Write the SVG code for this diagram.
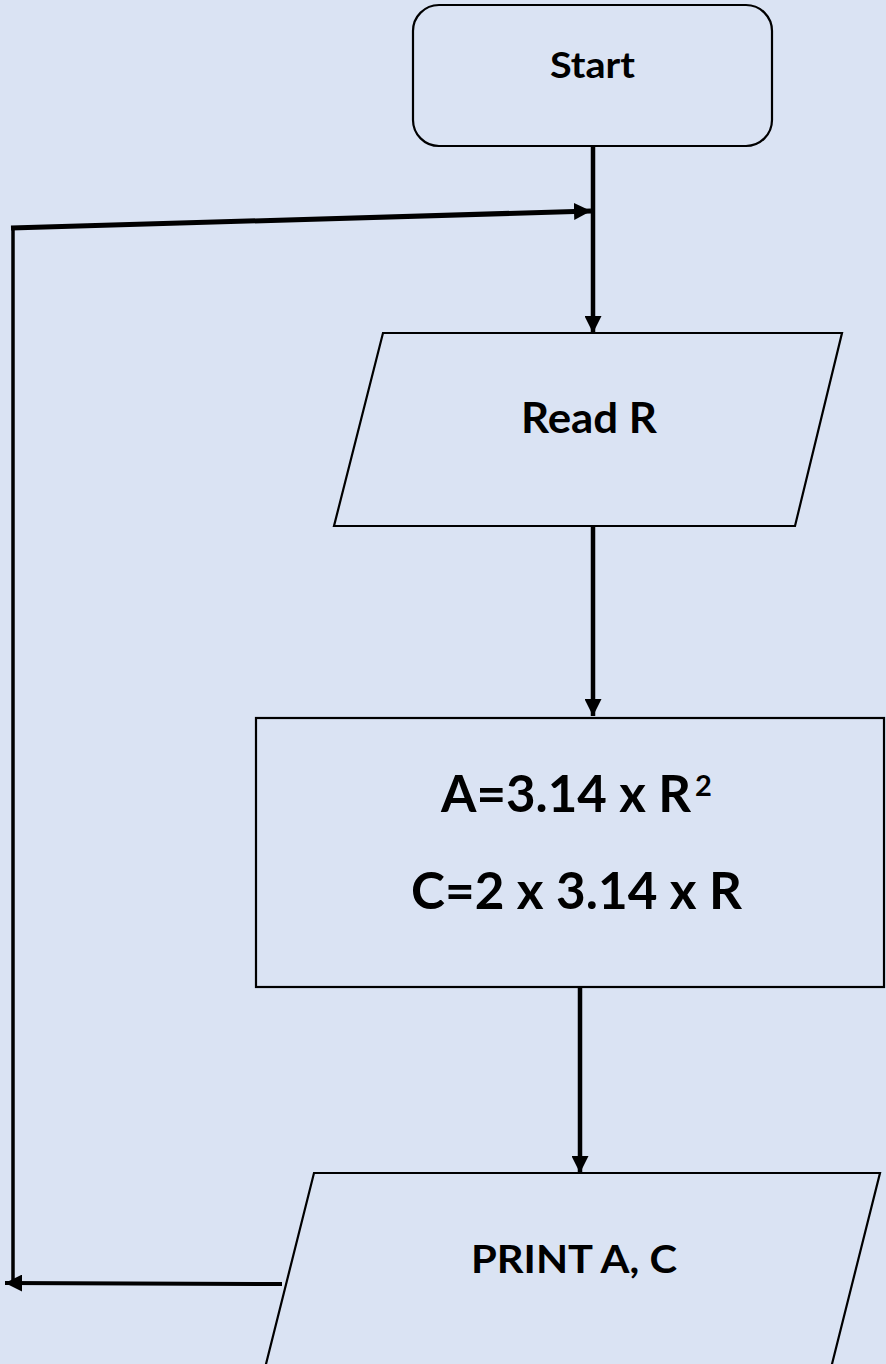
<svg xmlns="http://www.w3.org/2000/svg" width="886" height="1364" viewBox="0 0 886 1364">
<style>
.shape{fill:#DAE3F3;stroke:#000;stroke-width:2.2}
.lbl{font-family:Lato,"Open Sans","Liberation Sans",sans-serif;font-weight:bold;fill:#000}
.conn{stroke:#000;fill:none;stroke-linecap:butt}
</style>
<defs>
<marker id="ah" markerUnits="userSpaceOnUse" markerWidth="17" markerHeight="17" refX="17" refY="8.5" orient="auto" viewBox="0 0 17 17">
<path d="M0,0 L17,8.5 L0,17 z" fill="#000"/>
</marker>
</defs>
<rect width="886" height="1364" fill="#DAE3F3"/>
<g id="connectors">
<line class="conn" x1="593" y1="146" x2="593" y2="333" stroke-width="4.5" marker-end="url(#ah)"/>
<line class="conn" x1="593" y1="526" x2="593" y2="716" stroke-width="4.5" marker-end="url(#ah)"/>
<line class="conn" x1="580" y1="987" x2="580" y2="1173" stroke-width="4.5" marker-end="url(#ah)"/>
<line class="conn" x1="282" y1="1284" x2="5" y2="1283" stroke-width="4" marker-end="url(#ah)"/>
<line class="conn" x1="13" y1="1283" x2="13" y2="226" stroke-width="3.5"/>
<line class="conn" x1="11" y1="228" x2="591" y2="211" stroke-width="5" marker-end="url(#ah)"/>
</g>
<g id="start">
<rect class="shape" x="413" y="5" width="359" height="141" rx="26" ry="26"/>
<text class="lbl" x="592.5" y="78" font-size="37" text-anchor="middle" textLength="85" lengthAdjust="spacingAndGlyphs">Start</text>
</g>
<g id="read">
<polygon class="shape" points="383,333 842,333 795,526 334,526"/>
<text class="lbl" x="589" y="433" font-size="42" text-anchor="middle" textLength="136" lengthAdjust="spacingAndGlyphs">Read R</text>
</g>
<g id="calc">
<rect class="shape" x="256" y="718" width="628" height="269"/>
<text class="lbl" x="441" y="812" font-size="51">A=3.14 x R</text>
<text class="lbl" x="695" y="796" font-size="29">2</text>
<text class="lbl" x="576.5" y="909" font-size="52" text-anchor="middle" textLength="331" lengthAdjust="spacingAndGlyphs">C=2 x 3.14 x R</text>
</g>
<g id="print">
<polygon class="shape" points="314,1173 880,1173 828,1380 262,1380"/>
<text class="lbl" x="574" y="1273" font-size="39" text-anchor="middle" textLength="206" lengthAdjust="spacingAndGlyphs">PRINT A, C</text>
</g>
</svg>
